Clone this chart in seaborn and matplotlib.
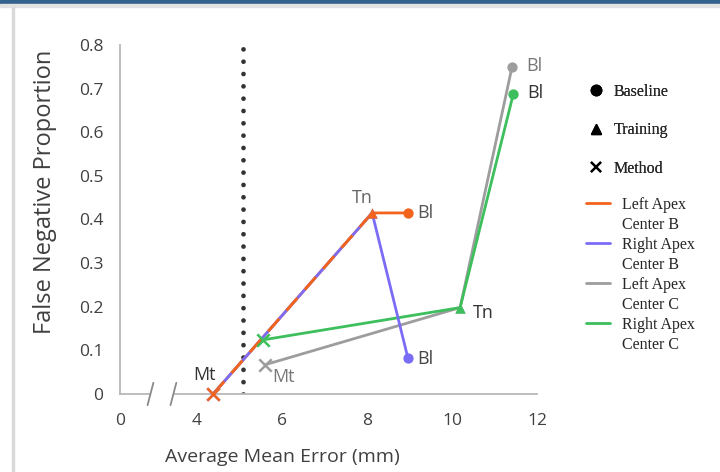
import matplotlib

matplotlib.use("Agg")
import matplotlib.pyplot as plt
from matplotlib.lines import Line2D
from matplotlib.patches import Rectangle
import seaborn as sns
import pandas as pd

# --- Data ---
STAGES = ["Mt", "Tn", "Bl"]
GROUPS = ["Left Apex Center B", "Right Apex Center B", "Left Apex Center C", "Right Apex Center C"]

LEFT_B_X = [4.38, 8.12, 8.96]
LEFT_B_Y = [0.0, 0.415, 0.415]
RIGHT_B_X = [4.38, 8.12, 8.96]
RIGHT_B_Y = [0.0, 0.415, 0.083]
LEFT_C_X = [5.6, 10.19, 11.41]
LEFT_C_Y = [0.067, 0.198, 0.749]
RIGHT_C_X = [5.55, 10.19, 11.44]
RIGHT_C_Y = [0.124, 0.198, 0.687]

THRESHOLD_X = 5.08
X_TICKS = [4, 6, 8, 10, 12]
X_TICK_LABELS = ["0", "4", "6", "8", "10", "12"]
Y_TICKS = [0, 0.1, 0.2, 0.3, 0.4, 0.5, 0.6, 0.7, 0.8]
Y_TICK_LABELS = ["0", "0.1", "0.2", "0.3", "0.4", "0.5", "0.6", "0.7", "0.8"]

PALETTE = {
    "Left Apex Center B": "#f2641c",
    "Right Apex Center B": "#7b6cf6",
    "Left Apex Center C": "#9d9d9d",
    "Right Apex Center C": "#3cbf5c",
}
MARKERS = {"Bl": "o", "Tn": "^", "Mt": "x"}

rows = []
for g, xs, ys in zip(GROUPS, [LEFT_B_X, RIGHT_B_X, LEFT_C_X, RIGHT_C_X],
                     [LEFT_B_Y, RIGHT_B_Y, LEFT_C_Y, RIGHT_C_Y]):
    for s, x, y in zip(STAGES, xs, ys):
        rows.append({"group": g, "stage": s, "x": x, "y": y})
df = pd.DataFrame(rows)

# --- Style ---
sns.set_style("white")
plt.rcParams["font.family"] = ["Open Sans", "DejaVu Sans"]

fig = plt.figure(figsize=(7.2, 4.72), dpi=100)
ax = fig.add_axes([0.1667, 0.1653, 0.5792, 0.7394])

# frame decoration like the source screenshot
fig.patches.append(Rectangle((0, 1 - 4 / 472), 1, 4 / 472, transform=fig.transFigure,
                             color="#33628f", zorder=0))
fig.patches.append(Rectangle((0, 1 - 7 / 472), 1, 3 / 472, transform=fig.transFigure,
                             color="#e2e2e2", zorder=0))
fig.patches.append(Rectangle((12 / 720, 0), 2 / 720, 1 - 7 / 472, transform=fig.transFigure,
                             color="#d9d9d9", zorder=0))

# threshold dotted line
ax.axvline(THRESHOLD_X, color="#333333", lw=3.4, linestyle=(0, (0.01, 2.6)),
           dash_capstyle="round", zorder=1)

hue_order = ["Left Apex Center C", "Right Apex Center C", "Left Apex Center B", "Right Apex Center B"]
sns.lineplot(data=df, x="x", y="y", hue="group", hue_order=hue_order, palette=PALETTE,
             sort=False, estimator=None, units="group", lw=2, legend=False, ax=ax, zorder=2)
# shared Mt->Tn segment of Center B drawn as alternating orange / blue
ax.plot(LEFT_B_X[:2], LEFT_B_Y[:2], color=PALETTE["Left Apex Center B"], lw=2,
        dashes=(6, 4), zorder=3)

# markers, orange drawn last so it sits on top of the shared point
marker_order = ["Left Apex Center C", "Right Apex Center C", "Right Apex Center B", "Left Apex Center B"]
for stage in STAGES:
    for g in marker_order:
        sub = df[(df["stage"] == stage) & (df["group"] == g)]
        if MARKERS[stage] == "x":
            sns.scatterplot(data=sub, x="x", y="y", color=PALETTE[g], marker="x",
                            s=80, linewidth=1.8, legend=False, ax=ax, zorder=4, clip_on=False)
        else:
            sns.scatterplot(data=sub, x="x", y="y", color=PALETTE[g],
                            marker=MARKERS[stage], s=55, linewidth=0, legend=False, ax=ax,
                            zorder=4, clip_on=False)

# point labels: (group, stage, offset in points, ha, color)
LABELS = [
    ("Left Apex Center B", "Mt", (-6, 14), "center", "#333333"),
    ("Left Apex Center B", "Tn", (-7, 11), "center", "#666666"),
    ("Left Apex Center B", "Bl", (7, 0), "left", "#555555"),
    ("Right Apex Center B", "Bl", (7, -1), "left", "#444444"),
    ("Left Apex Center C", "Mt", (5, -9), "left", "#777777"),
    ("Left Apex Center C", "Tn", (9, -4), "left", "#333333"),
    ("Left Apex Center C", "Bl", (10, 1), "left", "#777777"),
    ("Right Apex Center C", "Bl", (10, 1), "left", "#333333"),
]
for g, s, off, ha, c in LABELS:
    r = df[(df["group"] == g) & (df["stage"] == s)].iloc[0]
    ax.annotate(s, (r["x"], r["y"]), xytext=off, textcoords="offset points",
                ha=ha, va="center", fontsize=13, color=c)

# axes
x_left = 4 - 77 / 42.5
ax.set_xlim(x_left, 12)
ax.set_ylim(0, 0.8)
ax.set_xticks([x_left] + X_TICKS)
ax.set_xticklabels(X_TICK_LABELS)
ax.set_yticks(Y_TICKS)
ax.set_yticklabels(Y_TICK_LABELS)
ax.tick_params(length=0, labelsize=12.5, labelcolor="#404040")
ax.tick_params(axis="x", pad=14)
ax.tick_params(axis="y", pad=12)
sns.despine(ax=ax)
for sp in ["left", "bottom"]:
    ax.spines[sp].set_color("#b8b8b8")
    ax.spines[sp].set_linewidth(1.3)

ax.set_xlabel("Average Mean Error (mm)", fontsize=14, color="#404040")
ax.set_ylabel("False Negative Proportion", fontsize=17, color="#404040")
ax.xaxis.set_label_coords(0.39, -0.155)
ax.yaxis.set_label_coords(-0.15, 0.578)

# axis break marks
ax.add_patch(Rectangle((0.075, -0.01), 0.05, 0.02, transform=ax.transAxes,
                       color="white", clip_on=False, zorder=5))
for bx in [0.073, 0.128]:
    ax.plot([bx - 0.007, bx + 0.007], [-0.032, 0.032], transform=ax.transAxes,
            color="#8a8a8a", lw=1.3, clip_on=False, zorder=6)

# legends
serif = "Liberation Serif"
marker_handles = [
    Line2D([], [], marker="o", color="black", ls="none", markersize=7.5),
    Line2D([], [], marker="^", color="black", ls="none", markersize=7.5),
    Line2D([], [], marker="x", color="black", ls="none", markersize=7.5, mew=1.6),
]
leg1 = fig.legend(marker_handles, ["Baseline", "Training", "Method"],
                  loc="upper left", bbox_to_anchor=(588 / 720, 1 - 84 / 472),
                  frameon=False, handlelength=1.0, handletextpad=0.6, labelspacing=1.4,
                  borderpad=0, borderaxespad=0, prop={"family": serif, "size": 11.5})
fig.add_artist(leg1)

line_handles = []
line_labels = []
for g in GROUPS:
    words = g.split(" ")
    line_handles.append(Line2D([], [], color=PALETTE[g], lw=2))
    line_labels.append(" ".join(words[:2]))
    line_handles.append(Line2D([], [], color="none"))
    line_labels.append(" ".join(words[2:]))
fig.legend(line_handles, line_labels, loc="upper left",
           bbox_to_anchor=(586 / 720, 1 - 197 / 472), frameon=False,
           handlelength=1.5, handletextpad=0.75, labelspacing=0.25, borderpad=0,
           borderaxespad=0, prop={"family": serif, "size": 11.5})

fig.savefig("out.png", dpi=100)
